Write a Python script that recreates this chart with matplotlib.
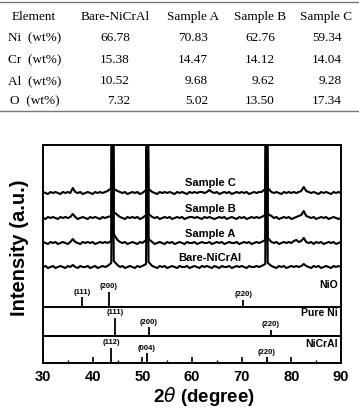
import matplotlib
matplotlib.use("Agg")
import matplotlib.pyplot as plt
from matplotlib.lines import Line2D

# ---- EDS composition table ----
table_cols = ["Element", "Bare-NiCrAl", "Sample A", "Sample B", "Sample C"]
table_rows = ["Ni  (wt%)", "Cr  (wt%)", "Al  (wt%)", "O  (wt%)"]
wt_ni = ["66.78", "70.83", "62.76", "59.34"]
wt_cr = ["15.38", "14.47", "14.12", "14.04"]
wt_al = ["10.52", "9.68", "9.62", "9.28"]
wt_o = ["7.32", "5.02", "13.50", "17.34"]

# ---- XRD patterns (arbitrary units) ----
two_theta = [30.0, 30.5, 31.0, 31.5, 32.0, 32.5, 33.0, 33.5, 34.0, 34.5,
             35.0, 35.5, 36.0, 36.5, 37.0, 37.5, 38.0, 38.5, 39.0, 39.5,
             40.0, 40.5, 41.0, 41.5, 42.0, 42.5, 43.0, 43.75, 44.0, 44.25,
             45.0, 45.5, 46.0, 46.5, 47.0, 47.5, 48.0, 48.5, 49.0, 49.5,
             50.0, 50.75, 51.0, 51.25, 52.0, 52.5, 53.0, 53.5, 54.0, 54.5,
             55.0, 55.5, 56.0, 56.5, 57.0, 57.5, 58.0, 58.5, 59.0, 59.5,
             60.0, 60.5, 61.0, 61.5, 62.0, 62.5, 63.0, 63.5, 64.0, 64.5,
             65.0, 65.5, 66.0, 66.5, 67.0, 67.5, 68.0, 68.5, 69.0, 69.5,
             70.0, 70.5, 71.0, 71.5, 72.0, 72.5, 73.0, 73.5, 74.0, 74.75,
             75.0, 75.25, 76.0, 76.5, 77.0, 77.5, 78.0, 78.5, 79.0, 79.5,
             80.0, 80.5, 81.0, 81.5, 82.0, 82.5, 83.0, 83.5, 84.0, 84.5,
             85.0, 85.5, 86.0, 86.5, 87.0, 87.5, 88.0, 88.5, 89.0, 89.5,
             90.0]

xrd_bare = [0, 1, -1, 0, 1, -1, 0, 1, 0, -1,
            1, 0, 2, 0, -1, 1, 0, 0, 1, -1,
            0, 1, -1, 0, 1, 0, 1, 4, 200, 6,
            2, 0, 1, -1, 0, 1, 0, -1, 1, 0,
            1, 3, 200, 5, 1, 0, -1, 1, 0, 1,
            -1, 0, 1, 0, -1, 1, 0, 0, 1, -1,
            0, 1, 0, -1, 1, 0, 1, 0, -1, 1,
            0, -1, 1, 0, 0, 1, -1, 0, 1, 0,
            1, 0, -1, 1, 0, 0, 1, 0, 1, 3,
            200, 4, 1, 0, -1, 1, 0, 1, -1, 0,
            1, 0, 1, 0, 1, 3, 1, 0, -1, 1,
            0, 1, -1, 0, 1, 0, -1, 1, 0, 1,
            0]
xrd_a = [1, 0, -1, 1, 0, 1, -1, 0, 1, 0,
         -1, 1, 4, 1, 0, -1, 1, 0, 1, 0,
         1, -1, 0, 1, 0, 1, 0, 2, 200, 9,
         3, 1, 0, 1, -1, 0, 1, 0, -1, 1,
         0, 3, 200, 4, 1, -1, 0, 1, 0, -1,
         1, 0, 1, -1, 0, 1, 0, -1, 1, 0,
         0, 1, -1, 0, 1, 0, 0, 1, -1, 0,
         1, 0, 1, -1, 0, 1, 0, 0, 1, -1,
         0, 1, 0, 1, -1, 0, 1, 0, 1, 3,
         200, 5, 1, 0, 1, -1, 0, 1, 0, 1,
         0, 2, 3, 1, 2, 5, 1, 0, 1, -1,
         1, 0, 1, -1, 0, 1, 0, 1, -1, 0,
         1]
xrd_b = [0, -1, 1, 0, 1, 0, -1, 1, 0, 1,
         0, 1, 4, 1, -1, 0, 1, 0, -1, 1,
         0, 1, 0, -1, 1, 0, 1, 2, 200, 6,
         3, 1, 0, -1, 1, 0, 1, 0, 1, -1,
         0, 3, 200, 4, 1, 0, 1, -1, 0, 1,
         0, 1, -1, 0, 1, 0, 1, -1, 0, 1,
         1, 0, 1, 0, -1, 1, 0, 1, 0, -1,
         0, 1, 0, 1, -1, 0, 1, 0, -1, 1,
         0, 1, -1, 0, 1, 0, 1, 0, 1, 3,
         200, 4, 2, 0, 1, -1, 0, 1, 0, 1,
         -1, 0, 1, 2, 3, 7, 2, 1, 0, 1,
         -1, 0, 1, 0, 1, -1, 0, 1, 0, -1,
         0]
xrd_c = [1, 0, -1, 1, 0, 1, 0, -1, 1, 0,
         1, 0, 5, 1, 0, 1, -1, 0, 1, 0,
         -1, 1, 0, 1, 0, 1, 2, 5, 200, 4,
         2, 1, 0, 1, -1, 0, 1, 0, 1, -1,
         0, 3, 200, 4, 1, 0, -1, 1, 0, 1,
         0, 1, 0, -1, 1, 0, 1, 0, -1, 1,
         0, 1, 0, 1, 1, 0, 1, 3, 1, 0,
         1, -1, 0, 1, 0, 1, -1, 0, 1, 0,
         1, 0, 1, -1, 0, 1, 0, 1, 1, 4,
         200, 5, 1, 0, 1, 0, -1, 1, 0, 1,
         0, 1, 0, 1, 2, 6, 2, 1, 0, 1,
         0, -1, 1, 0, 1, 0, -1, 1, 0, 1,
         0]
sample_names = ["Bare-NiCrAl", "Sample A", "Sample B", "Sample C"]

# ---- reference patterns (stick positions / relative heights) ----
nio_pos = [37.9, 43.3, 70.3]
nio_int = [10, 15, 7]
nio_hkl = ["(111)", "(200)", "(220)"]
ni_pos = [44.5, 51.3, 75.9]
ni_int = [18, 9, 6]
ni_hkl = ["(111)", "(200)", "(220)"]
nicral_pos = [43.7, 50.9, 75.1]
nicral_int = [15, 10, 6]
nicral_hkl = ["(112)", "(004)", "(220)"]

SANS = ["Liberation Sans", "DejaVu Sans"]
SERIF = ["Liberation Serif", "DejaVu Serif"]

fig = plt.figure(figsize=(3.59, 4.12), dpi=100)
W, H = 359.0, 412.0


def fx(px):
    return px / W


def fy(py):
    return 1 - py / H


# table (positions in pixels of the 359x412 canvas)
for py in (2, 111):
    fig.add_artist(Line2D([0, 1], [fy(py), fy(py)], transform=fig.transFigure,
                          color="#777777", lw=1.0))
head_x = [34, 115, 193, 260, 326]
num_right = [130, 208, 275, 342]
row_y = [38, 60, 81, 101]
for cx, t in zip(head_x, table_cols):
    fig.text(fx(cx), fy(17), t, ha="center", va="center", fontsize=9.5, family=SERIF)
for ry, lab, vals in zip(row_y, table_rows, [wt_ni, wt_cr, wt_al, wt_o]):
    fig.text(fx(35), fy(ry), lab, ha="center", va="center", fontsize=9.5, family=SERIF)
    for rx, v in zip(num_right, vals):
        fig.text(fx(rx), fy(ry), v, ha="right", va="center", fontsize=9.5, family=SERIF)

# chart panels: XRD + NiO on top, Pure Ni and NiCrAl references below
left, right = fx(43), fx(341)
ax_top = fig.add_axes([left, fy(307), right - left, 162 / H])
ax_mid = fig.add_axes([left, fy(336), right - left, 29 / H], sharex=ax_top)
ax_bot = fig.add_axes([left, fy(363), right - left, 27 / H], sharex=ax_top)

offsets = [40, 64, 89, 114]
label_y = [49, 73, 98, 124]
for ys, off, name, ly in zip([xrd_bare, xrd_a, xrd_b, xrd_c], offsets, sample_names, label_y):
    ax_top.plot(two_theta, [v + off for v in ys], color="black", lw=1.5)
    ax_top.text(63.6, ly, name, ha="center", va="center", fontsize=8,
                fontweight="bold", family=SANS)
ax_top.set_ylim(0, 162)

for ax, pos, inten, hkl, name, ymax, name_y in [
        (ax_top, nio_pos, nio_int, nio_hkl, "NiO", 162, 22),
        (ax_mid, ni_pos, ni_int, ni_hkl, "Pure Ni", 29, 23),
        (ax_bot, nicral_pos, nicral_int, nicral_hkl, "NiCrAl", 27, 19)]:
    ax.vlines(pos, 0, inten, color="black", lw=1.3)
    for p, h, t in zip(pos, inten, hkl):
        ax.text(p, h + 1.5, t, ha="center", va="bottom", fontsize=5.5,
                fontweight="bold", family=SANS)
    ax.text(89.4, name_y, name, ha="right", va="center", fontsize=7.5,
            fontweight="bold", family=SANS)
    ax.set_ylim(0, ymax)
    ax.set_yticks([])
    for s in ax.spines.values():
        s.set_linewidth(1.4)

ax_top.set_xlim(30, 90)
ax_bot.set_xticks([30, 40, 50, 60, 70, 80, 90])
ax_bot.set_xticks([35, 45, 55, 65, 75, 85], minor=True)
ax_bot.tick_params(axis="x", which="major", direction="in", length=4, width=1.2, pad=5)
ax_bot.tick_params(axis="x", which="minor", direction="in", length=2, width=1.0)
for lab in ax_bot.get_xticklabels():
    lab.set_fontweight("bold")
    lab.set_fontsize(10.5)
    lab.set_family(SANS)
for ax in (ax_top, ax_mid):
    ax.tick_params(axis="x", which="both", bottom=False, labelbottom=False)

fig.text(fx(20), fy(248), "Intensity (a.u.)", rotation=90, ha="center", va="center",
         fontsize=14.5, fontweight="bold", family=SANS)
fig.text(fx(204), fy(397), r"2$\theta$ (degree)", ha="center", va="center",
         fontsize=13.5, fontweight="bold", family=SANS)

fig.savefig("out.png", dpi=100)
